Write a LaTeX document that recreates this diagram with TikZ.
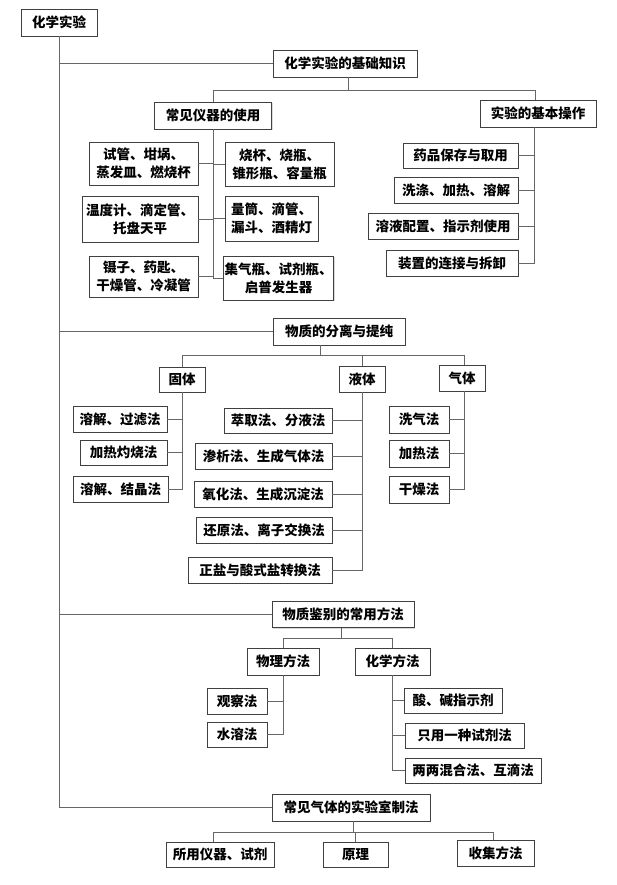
\documentclass[tikz,border=0pt]{standalone}
\usepackage{fontspec}
\setmainfont{Noto Sans CJK SC}
\usetikzlibrary{shadows,positioning}
\tikzset{
	item/.style={
		rectangle, draw=black!75, line width=0.9pt, fill=white,
		align=center, inner sep=1bp, minimum height=26bp,
		font=\fontsize{13.5bp}{18bp}\selectfont\bfseries,
		drop shadow={opacity=0.3, shadow xshift=1bp, shadow yshift=-1bp},
	},
	wire/.style={
		draw, black!60, line width=0.9pt,
	}
}

\begin{document}
\begin{tikzpicture}[x=1bp, y=-1bp]
\useasboundingbox (0,0) rectangle (617,885);

% top level
\node [item, minimum width=76bp, minimum height=27bp] (root) at (59,22.5) {化学实验};
\node [item, minimum width=144bp, minimum height=27bp] (base) at (345,63.5) {化学实验的基础知识};
\node [item, minimum width=132bp, minimum height=27bp] (sep) at (339,331.5) {物质的分离与提纯};
\node [item, minimum width=142bp] (idf) at (343,614.5) {物质鉴别的常用方法};
\node [item, minimum width=158bp, minimum height=27bp] (gasprep) at (351,807.5) {常见气体的实验室制法};

% basics
\node [item, minimum width=117bp, minimum height=27bp] (instr) at (213,115.5) {常见仪器的使用};
\node [item, minimum width=116bp, minimum height=27bp] (ops) at (538,113.5) {实验的基本操作};

\node [item, minimum width=109bp, minimum height=43bp] (i1) at (143.5,163.5) {试管、坩埚、\\蒸发皿、燃烧杯};
\node [item, minimum width=109bp, minimum height=44bp] (i2) at (279.5,164) {烧杯、烧瓶、\\锥形瓶、容量瓶};
\node [item, minimum width=116bp, minimum height=46bp] (i3) at (140,219) {温度计、滴定管、\\托盘天平};
\node [item, minimum width=93bp, minimum height=45bp] (i4) at (271.5,218.5) {量筒、滴管、\\漏斗、酒精灯};
\node [item, minimum width=109bp, minimum height=41bp] (i5) at (143.5,276.5) {镊子、药匙、\\干燥管、冷凝管};
\node [item, minimum width=109bp, minimum height=44bp] (i6) at (278.5,278) {集气瓶、试剂瓶、\\启普发生器};

\node [item, minimum width=115bp, minimum height=25bp] (o1) at (460.5,155.5) {药品保存与取用};
\node [item, minimum width=124bp] (o2) at (456,190) {洗涤、加热、溶解};
\node [item, minimum width=150bp] (o3) at (443,226) {溶液配置、指示剂使用};
\node [item, minimum width=132bp] (o4) at (452,263) {装置的连接与拆卸};

% separation
\node [item, minimum width=46bp, minimum height=25bp] (sol) at (182,379.5) {固体};
\node [item, minimum width=46bp] (liq) at (362,379) {液体};
\node [item, minimum width=46bp] (gas) at (462,378) {气体};

\node [item, minimum width=94bp] (s1) at (120,419) {溶解、过滤法};
\node [item, minimum width=87bp, minimum height=25bp] (s2) at (123.5,452.5) {加热灼烧法};
\node [item, minimum width=95bp] (s3) at (120.5,489) {溶解、结晶法};

\node [item, minimum width=108bp, minimum height=25bp] (l1) at (278,420.5) {萃取法、分液法};
\node [item, minimum width=137bp] (l2) at (263.5,456) {渗析法、生成气体法};
\node [item, minimum width=138bp] (l3) at (263,494) {氧化法、生成沉淀法};
\node [item, minimum width=136bp] (l4) at (264,530) {还原法、离子交换法};
\node [item, minimum width=144bp] (l5) at (260,570) {正盐与酸式盐转换法};

\node [item, minimum width=60bp, minimum height=27bp] (g1) at (419,419.5) {洗气法};
\node [item, minimum width=60bp, minimum height=27bp] (g2) at (419,453.5) {加热法};
\node [item, minimum width=60bp, minimum height=27bp] (g3) at (419,489.5) {干燥法};

% identification
\node [item, minimum width=72bp, minimum height=27bp] (phy) at (283,661.5) {物理方法};
\node [item, minimum width=75bp, minimum height=27bp] (chm) at (392.5,661.5) {化学方法};

\node [item, minimum width=60bp] (p1) at (237,701) {观察法};
\node [item, minimum width=60bp, minimum height=25bp] (p2) at (237,734.5) {水溶法};

\node [item, minimum width=98bp, minimum height=25bp] (c1) at (453,700.5) {酸、碱指示剂};
\node [item, minimum width=119bp, minimum height=25bp] (c2) at (464.5,735.5) {只用一种试剂法};
\node [item, minimum width=136bp, minimum height=25bp] (c3) at (473,770.5) {两两混合法、互滴法};

% gas preparation
\node [item, minimum width=108bp, minimum height=25bp] (q1) at (220,854.5) {所用仪器、试剂};
\node [item, minimum width=65bp, minimum height=25bp] (q2) at (355.5,854.5) {原理};
\node [item, minimum width=77bp] (q3) at (495.5,853) {收集方法};

% trunk
\path [wire] (root.south) |- (base.west);
\path [wire] (root.south) |- (sep.west);
\path [wire] (root.south) |- (idf.west);
\path [wire] (root.south) |- (gasprep.west);

\path [wire] ([xshift=3bp]base.south) -- ++(0,13) -| (instr.north);
\path [wire] ([xshift=3bp]base.south) -- ++(0,13) -| ([xshift=-3bp]ops.north);
\foreach \n in {i1,i3,i5} \path [wire] (instr.south) |- (\n.east);
\foreach \n in {i2,i4,i6} \path [wire] (instr.south) |- (\n.west);
\foreach \n in {o1,o2,o3,o4} \path [wire] ([xshift=-4bp]ops.south) |- (\n.east);

\path [wire] ([xshift=-19bp]sep.south) -- ++(0,10) -| (sol.north);
\path [wire] ([xshift=-19bp]sep.south) -- ++(0,10) -| (liq.north);
\path [wire] ([xshift=-19bp]sep.south) -- ++(0,10) -| ([xshift=2bp]gas.north);
\foreach \n in {s1,s2,s3} \path [wire] (sol.south) |- (\n.east);
\foreach \n in {l1,l2,l3,l4,l5} \path [wire] (liq.south) |- (\n.east);
\foreach \n in {g1,g2,g3} \path [wire] ([xshift=2bp]gas.south) |- (\n.east);

\path [wire] ([xshift=-2bp]idf.south) -- ++(0,10) -| (phy.north);
\path [wire] ([xshift=-2bp]idf.south) -- ++(0,10) -| (chm.north);
\foreach \n in {p1,p2} \path [wire] (phy.south) |- (\n.east);
\foreach \n in {c1,c2,c3} \path [wire] (chm.south) |- (\n.west);

\path [wire] ([xshift=2bp]gasprep.south) -- ++(0,11) -| ([xshift=-7bp]q1.north);
\path [wire] ([xshift=2bp]gasprep.south) -- ++(0,11) -| (q2.north);
\path [wire] ([xshift=2bp]gasprep.south) -- ++(0,11) -| ([xshift=-2bp]q3.north);
\end{tikzpicture}
\end{document}
